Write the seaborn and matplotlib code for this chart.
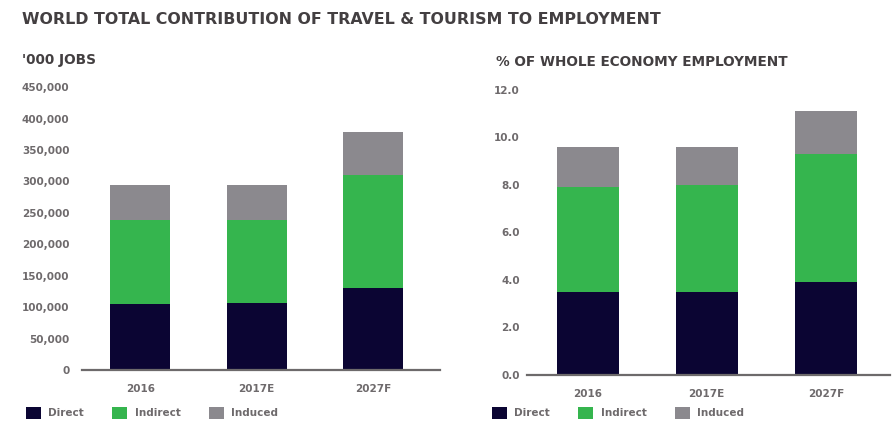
import matplotlib
matplotlib.use("Agg")
import matplotlib.pyplot as plt
from matplotlib.patches import Patch
import seaborn as sns
import pandas as pd

sns.set_theme(style="white")
plt.rcParams["font.family"] = ["DejaVu Sans"]

# ---- data -------------------------------------------------------------
years = ["2016", "2017E", "2027F"]
components = ["Direct", "Indirect", "Induced"]

# '000 jobs
jobs_direct = [105000, 107000, 130000]
jobs_indirect = [133000, 131000, 180000]
jobs_induced = [56000, 57000, 68000]

# % of whole economy employment
share_direct = [3.5, 3.5, 3.9]
share_indirect = [4.4, 4.5, 5.4]
share_induced = [1.7, 1.6, 1.8]

jobs_ticks = [0, 50000, 100000, 150000, 200000, 250000, 300000, 350000, 400000, 450000]
share_ticks = [0.0, 2.0, 4.0, 6.0, 8.0, 10.0, 12.0]

colors = {"Direct": "#0b0533", "Indirect": "#35b54e", "Induced": "#8b898e"}
tick_color = "#6e6a6c"
text_color = "#433f41"


def stacked_frame(direct, indirect, induced):
    df = pd.DataFrame({"year": years, "Direct": direct,
                       "Indirect": indirect, "Induced": induced})
    # cumulative levels, drawn back to front
    df["lvl_induced"] = df["Direct"] + df["Indirect"] + df["Induced"]
    df["lvl_indirect"] = df["Direct"] + df["Indirect"]
    df["lvl_direct"] = df["Direct"]
    return df


def draw_stack(ax, df, width):
    for col, comp in [("lvl_induced", "Induced"), ("lvl_indirect", "Indirect"),
                      ("lvl_direct", "Direct")]:
        sns.barplot(data=df, x="year", y=col, order=years, color=colors[comp],
                    width=width, saturation=1, ax=ax, linewidth=0)


fig = plt.figure(figsize=(8.92, 4.30), dpi=100)

ax1 = fig.add_axes([0.0919, 0.1395, 0.4013, 0.658])
ax2 = fig.add_axes([0.5908, 0.128, 0.407, 0.663])

draw_stack(ax1, stacked_frame(jobs_direct, jobs_indirect, jobs_induced), 0.515)
draw_stack(ax2, stacked_frame(share_direct, share_indirect, share_induced), 0.52)

ax1.set_ylim(0, 450000)
ax1.set_xlim(-0.5, 2.575)
ax1.set_yticks(jobs_ticks)
ax1.set_yticklabels([f"{t:,}" for t in jobs_ticks])

ax2.set_ylim(0, 12)
ax2.set_xlim(-0.51, 2.54)
ax2.set_yticks(share_ticks)
ax2.set_yticklabels([f"{t:.1f}" for t in share_ticks])

for ax, pad, xpad in [(ax1, 9, 10), (ax2, 5, 10)]:
    ax.set_xlabel("")
    ax.set_ylabel("")
    for s in ["top", "right", "left"]:
        ax.spines[s].set_visible(False)
    ax.spines["bottom"].set_color("#6d6a6b")
    ax.spines["bottom"].set_linewidth(1.6)
    ax.tick_params(axis="y", length=0, pad=pad, labelsize=7.5, labelcolor=tick_color)
    ax.tick_params(axis="x", length=0, pad=xpad, labelsize=7.5, labelcolor=tick_color)
    for lab in ax.get_yticklabels() + ax.get_xticklabels():
        lab.set_fontweight("bold")
    ax.set_facecolor("white")
    ax.grid(False)

# titles
fig.text(22 / 892, 1 - 20 / 430,
         "WORLD TOTAL CONTRIBUTION OF TRAVEL & TOURISM TO EMPLOYMENT",
         fontweight="bold", fontsize=11.4, color=text_color,
         ha="left", va="center")
fig.text(22 / 892, 1 - 60 / 430, "'000 JOBS", fontweight="bold",
         fontsize=9.8, color=text_color, ha="left", va="center")
fig.text(496 / 892, 1 - 62 / 430, "% OF WHOLE ECONOMY EMPLOYMENT",
         fontweight="bold", fontsize=9.8, color=text_color, ha="left", va="center")

# legends
handles = [Patch(facecolor=colors[c], edgecolor="none", label=c) for c in components]
for x0 in (26 / 892, 492 / 892):
    leg = fig.legend(handles=handles, loc="center left",
                     bbox_to_anchor=(x0, 1 - 413 / 430), ncol=3, frameon=False,
                     handlelength=1.45, handleheight=1.45, handletextpad=0.7,
                     columnspacing=2.7, borderaxespad=0, borderpad=0,
                     prop={"size": 7.5, "weight": "bold"})
    for t in leg.get_texts():
        t.set_color(tick_color)

fig.savefig("out.png", dpi=100, facecolor="white")
